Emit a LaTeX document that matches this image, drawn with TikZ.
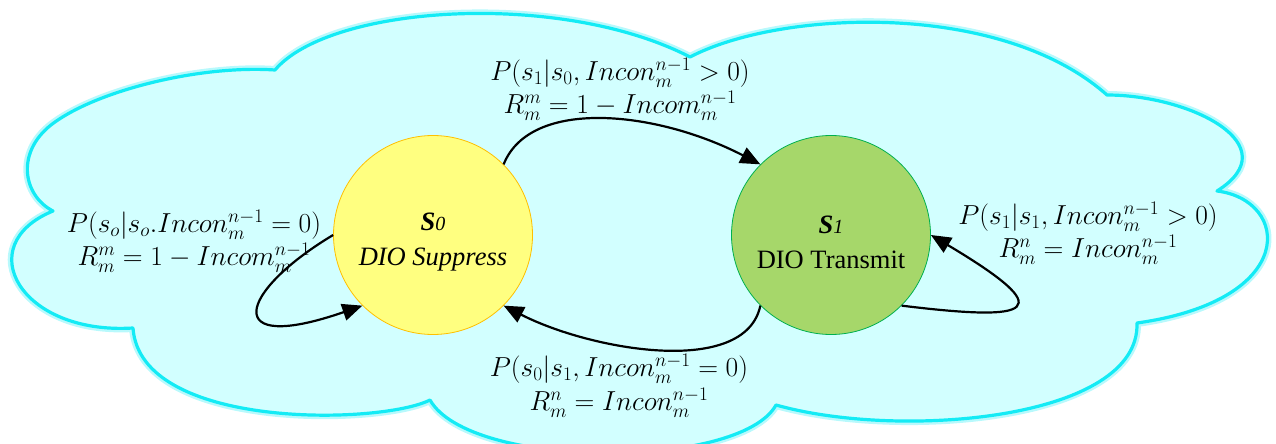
\RequirePackage{fix-cm}
\documentclass[tikz,border=0pt]{standalone}
\usepackage{fontspec}
\newfontfamily\tnr{Liberation Serif}
\usetikzlibrary{arrows.meta,shapes.geometric}
\definecolor{cloudfill}{RGB}{210,255,255}
\definecolor{cloudline}{RGB}{20,235,245}
\definecolor{yfill}{RGB}{255,255,128}
\definecolor{yline}{RGB}{255,192,0}
\definecolor{gfill}{RGB}{166,215,106}
\definecolor{gline}{RGB}{0,176,80}
\begin{document}
\begin{tikzpicture}[x=1pt,y=-1pt,
  state/.style={circle, minimum size=199pt, inner sep=0pt, line width=0.8pt},
  stext/.style={align=center, inner sep=0pt, font=\tnr\fontsize{26.5}{35}\selectfont},
  trans/.style={-{Triangle[length=20pt,width=17pt]}, line width=2.2pt},
  lab/.style={align=center, inner sep=0pt, font=\fontsize{27.5}{33}\selectfont}]
\useasboundingbox (0,0) rectangle (1276,444);
% cloud
\def\cloudpath{(53,211) .. controls (22,195) and (15,150) .. (55,122)
  .. controls (100,90) and (200,65) .. (275,70)
  .. controls (330,5) and (560,-10) .. (690,57)
  .. controls (780,10) and (1000,0) .. (1107,95)
  .. controls (1190,95) and (1290,145) .. (1217,191)
  .. controls (1290,200) and (1300,300) .. (1137,323)
  .. controls (1140,420) and (900,440) .. (776,405)
  .. controls (740,470) and (470,470) .. (430,400)
  .. controls (380,425) and (140,430) .. (133,328)
  .. controls (20,335) and (-30,245) .. (53,211) -- cycle}
\draw[cloudline, opacity=0.3, line width=8pt, line join=round] \cloudpath;
\fill[cloudfill] \cloudpath;
\draw[cloudline, line width=3.2pt, line join=round] \cloudpath;
% states
\node[state, fill=yfill, draw=yline] (s0) at (433,235) {};
\node[state, fill=gfill, draw=gline] (s1) at (831,235) {};
\node[stext, yshift=-7pt] (s0t) at (s0.center) {{\bfseries\itshape S}{\itshape\fontsize{20}{20}\selectfont 0}\\ \itshape DIO Suppress};
\node[stext, yshift=-7pt] (s1t) at (s1.center) {{\bfseries\itshape S}{\itshape\fontsize{20}{20}\selectfont 1}\\ DIO Transmit};
% transitions
\draw[trans] (s0.45) .. controls (530,98) and (655,110) .. (s1.135);
\draw[trans] (s1.225) .. controls (745,378) and (590,350) .. (s0.315);
\draw[trans] (s0.180) .. controls (238,292) and (220,355) .. (s0.225);
\draw[trans] (s1.315) .. controls (1035,322) and (1060,312) .. (s1.0);
% labels
\node[lab] (ltop) at (620,89) {$P(s_1|s_0, Incon_m^{n-1} > 0)$\\ $R_m^m = 1 - Incom_m^{n-1}$};
\node[lab] (lleft) at (194,241) {$P(s_o|s_o. Incon_m^{n-1} = 0)$\\ $R_m^m = 1 - Incom_m^{n-1}$};
\node[lab] (lright) at (1088,233) {$P(s_1|s_1, Incon_m^{n-1} > 0)$\\ $R_m^n = Incon_m^{n-1}$};
\node[lab] (lbot) at (619,386) {$P(s_0|s_1, Incon_m^{n-1} = 0)$\\[1pt] $R_m^n = Incon_m^{n-1}$};
\end{tikzpicture}
\end{document}
